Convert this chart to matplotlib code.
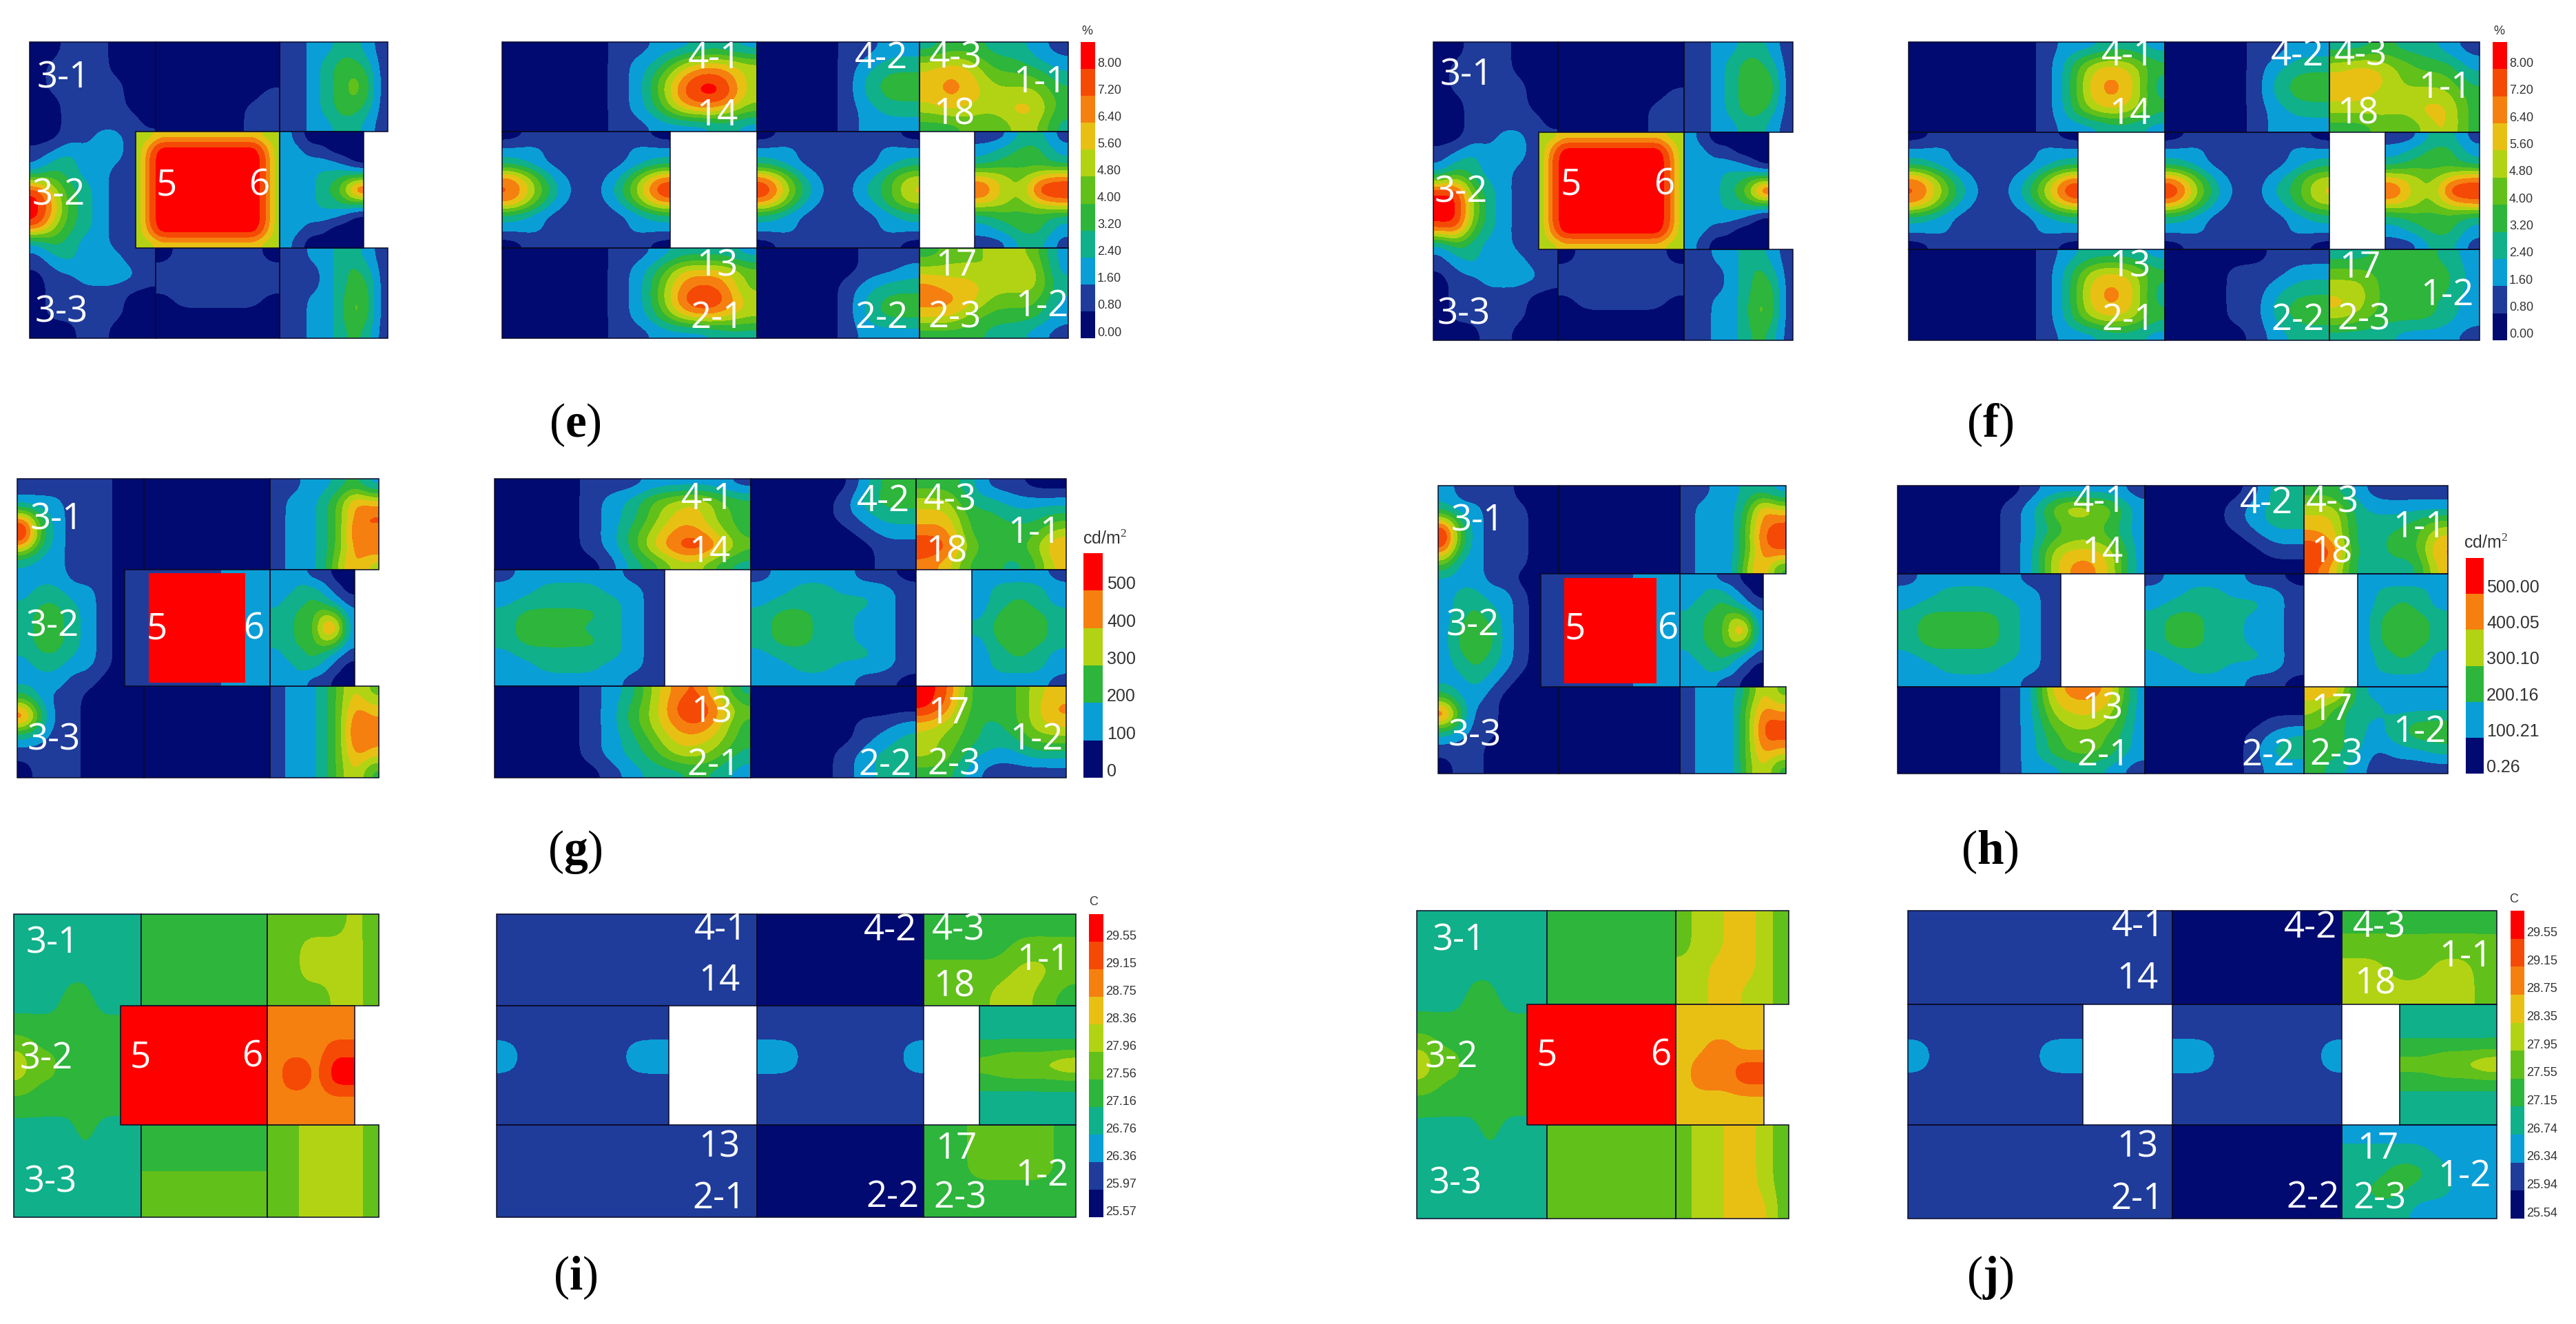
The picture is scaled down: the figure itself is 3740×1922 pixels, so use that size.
import numpy as np
import matplotlib
matplotlib.use('Agg')
from matplotlib import pyplot as plt
from matplotlib.colors import ListedColormap, BoundaryNorm
from matplotlib.patches import Rectangle

plt.rcParams['mathtext.fontset'] = 'custom'
plt.rcParams['mathtext.rm'] = 'Liberation Serif'
plt.rcParams['mathtext.bf'] = 'Liberation Serif:bold'

# 11 colour bands, navy to red. each room is a grid of band numbers (hex, a=10)
BAND_COLORS = ['#000a70', '#1f3c9a', '#0a9ed6', '#0fb08a', '#2db53c', '#62c01a',
               '#b2d313', '#e8c014', '#f5800f', '#f54a05', '#ff0000']

E_W = ["00111000", "01111000", "01111100", "00111100", "00111110", "00112211", "12322211", "24322111",
       "a6432111", "a8432111", "a6432111", "24322111", "12322211", "01122221", "01111100", "01111100", "00011000"]
E_TM = ["0000000", "0000000", "0000000", "0000001", "0000011", "0000011"]
E_TR = ["11223321", "11234431", "11234541", "11234541", "11234431", "11223321"]
E_C = ["667777777777766", "68aaaaaaaaaaa86", "69aaaaaaaaaaa96", "69aaaaaaaaaaa96", "69aaaaaaaaaaa96", "69aaaaaaaaaaa96",
       "69aaaaaaaaaaa96", "69aaaaaaaaaaa96", "69aaaaaaaaaaa96", "68aaaaaaaaaaa86", "667777777777766"]
E_R6 = ["2100000", "2211000", "2222210", "2223344", "222346a", "2223344", "2222210", "2211000", "2100000"]
E_BM = ["0111110", "1111111", "1111111", "0111110", "0000000", "0000000"]
E_BR = ["11223321", "11123431", "11123441", "11223541", "11223541", "11223431"]
E_TA = ["000001122332", "000001236776", "000001258a96", "000001259aa6", "000001247875", "000001122232"]
E_TB = ["00001122", "00001233", "00001344", "00001344", "00001233", "00001222"]
E_TC = ["3443321", "6764432", "7875553", "7876664", "6766774", "4454663"]
E_MA = ["01111110", "22111122", "32111123", "85211258", "9631136a", "85211258", "32111123", "22111122", "01111110"]
E_MB = ["01111110", "22111122", "32111123", "85211246", "a6311347", "85211246", "32111123", "22111122", "01111110"]
E_MC = ["11331", "23442", "34443", "76578", "965aa", "76578", "34443", "23442", "11331"]
E_BA = ["000001123332", "000001247775", "000001258985", "000001259a96", "000001247876", "000001122233"]
E_BB = ["00000111", "00000112", "00001233", "00001344", "00001344", "00001222"]
E_BC = ["4556652", "6665762", "8776663", "8875552", "7754442", "4443321"]

F_W = ["00111000", "01111000", "01111100", "00111100", "00111110", "00112211", "12322211", "24322111",
       "aa532111", "aa632111", "aa532111", "24322111", "12322211", "01122221", "01111100", "01111100", "00011000"]
F_TM = ["0000000", "0000000", "0000000", "0000001", "0000011", "0000011"]
F_TR = ["11223321", "11234431", "11234441", "11234541", "11234431", "11223321"]
F_C = ["667777777777766", "68aaaaaaaaaaa86", "69aaaaaaaaaaa96", "69aaaaaaaaaaa96", "69aaaaaaaaaaa96", "69aaaaaaaaaaa96",
       "69aaaaaaaaaaa96", "69aaaaaaaaaaa96", "69aaaaaaaaaaa96", "68aaaaaaaaaaa86", "667777777777766"]
F_R6 = ["2100000", "2211000", "2222210", "2223344", "222346a", "2223344", "2222210", "2211000", "2100000"]
F_BM = ["0111110", "1111111", "1111111", "0111110", "0000000", "0000000"]
F_BR = ["11223321", "11123431", "11123441", "11223541", "11223541", "11223431"]
F_TA = ["000000122332", "000000136764", "000000137873", "000000137873", "000000136764", "000000122332"]
F_TB = ["00001122", "00001233", "00001344", "00001344", "00001233", "00001222"]
F_TC = ["3343321", "6765442", "7775553", "7766664", "6666774", "4454674"]
F_MA = ["01111110", "22111122", "32111123", "85211258", "9631136a", "85211258", "32111123", "22111122", "01111110"]
F_MB = ["01111110", "22111122", "32111123", "85211246", "a6311347", "85211246", "32111123", "22111122", "01111110"]
F_MC = ["11331", "23442", "34443", "76578", "965aa", "76578", "34443", "23442", "11331"]
F_BA = ["000000123332", "000000136764", "000000137873", "000000137873", "000000136764", "000000122332"]
F_BB = ["00000111", "00011122", "00011233", "00011344", "00011344", "00001233"]
F_BC = ["3344432", "5544442", "6644442", "7644432", "6544432", "3332221"]

G_W = ["11111100", "22211100", "a4211100", "a4211100", "32211100", "22211100", "23322100", "34432100",
       "34432100", "34432100", "23322100", "22211000", "42110000", "a4110000", "32110000", "11110000", "01110000"]
G_TM = ["00", "00"]
G_TR = ["1122342", "1223587", "1223589", "1223598", "1223589", "1223686"]
G_C = ["111122", "111122"]
G_R6 = ["2221100", "2233210", "2334321", "3344652", "3344882", "3344652", "2334321", "2233210", "2221100"]
G_BM = ["00", "00"]
G_BR = ["1223575", "1223587", "1223598", "1223598", "1223587", "1223574"]
G_TA = ["000011122221", "000012356754", "000012357754", "000012468864", "000012479a85", "000001346643"]
G_TB = ["00000244", "00001344", "00001233", "00000122", "00000011", "00000011"]
G_TC = ["4431100", "6633222", "7744334", "8844446", "a954458", "8744347"]
G_MA = ["12222211", "22333221", "23333321", "34444321", "34443321", "34444321", "23333321", "22333221", "22222211"]
G_MB = ["12222110", "22332221", "23333321", "34433221", "34433221", "34433221", "23333321", "22332221", "22222110"]
G_MC = ["22221", "23332", "23432", "24443", "34543", "24443", "23432", "23332", "22221"]
G_BA = ["000012368963", "000012469a85", "000012468974", "000012357764", "000012346653", "000001233432"]
G_BB = ["00000000", "00000000", "00000112", "00000123", "00001233", "00001233"]
G_BC = ["a944467", "a844468", "7643467", "6543355", "6532233", "4421111"]

H_W = ["21111000", "32211100", "a4211100", "a4211100", "52211100", "22211000", "23322100", "23432100",
       "24442100", "24442100", "23432100", "22321000", "42210000", "a4110000", "32110000", "11100000", "01100000"]
H_TM = ["00", "00"]
H_TR = ["1122332", "1222486", "1222589", "1222599", "1222589", "1222684"]
H_C = ["111122", "111122"]
H_R6 = ["2221100", "2233210", "2334321", "3344652", "3344782", "3344652", "2334321", "2233210", "2221100"]
H_BM = ["00", "00"]
H_BR = ["1222475", "1222587", "1222599", "1222599", "1222587", "1222574"]
H_TA = ["000000122221", "000001257652", "000001245542", "000001245542", "000001267762", "000001268862"]
H_TB = ["00000133", "00001233", "00001233", "00000122", "00000011", "00000000"]
H_TC = ["4421111", "6632222", "7733345", "8733447", "a933448", "9733337"]
H_MA = ["12222211", "22333221", "23333321", "34444321", "34444321", "34444321", "23333321", "22333221", "22222211"]
H_MB = ["12222110", "22332221", "23333321", "34433221", "34433221", "34433221", "23333321", "22332221", "22222110"]
H_MC = ["22222", "23332", "23432", "24443", "24543", "24443", "23432", "23332", "22222"]
H_BA = ["000001278872", "000001267762", "000001256652", "000001245542", "000001245542", "000001223321"]
H_BB = ["00000000", "00000000", "00000011", "00000123", "00000133", "00000122"]
H_BC = ["7832222", "6433222", "5432344", "4432344", "4431223", "4321111"]

I_W = ["33333333", "33333333", "33344333", "44444444", "75544444", "44444444", "33334333", "33333333", "33333333"]
I_TM = ["44", "44"]
I_TR = ["5555565", "5566665", "5566665", "5555665"]
I_C = ["aa", "aa"]
I_R6 = ["888888", "888888", "888899", "8998aa", "8998aa", "888888", "888888"]
I_BM = ["44", "55"]
I_BR = ["5566665", "5566665", "5566665", "5566665"]
I_TA = ["11", "11"]
I_TB = ["00", "00"]
I_TC = ["4444444", "4444555", "5555665", "5556654"]
I_MA = ["11111111", "11111111", "21111122", "21111122", "11111111", "11111111", "11111111"]
I_MB = ["11111111", "11111111", "22111112", "22111112", "11111111", "11111111", "11111111"]
I_MC = ["33333", "33333", "44444", "56667", "44444", "33333", "33333"]
I_BA = ["11", "11"]
I_BB = ["00", "00"]
I_BC = ["4455554", "4455554", "4455554", "4444444", "4444444"]

J_W = ["33333333", "33333333", "33344333", "44444444", "75544444", "44444444", "33334333", "33333333", "33333333"]
J_TM = ["44", "44"]
J_TR = ["5667765", "5667765", "6677765", "6677665"]
J_C = ["aa", "aa"]
J_R6 = ["777777", "777777", "778877", "788899", "788899", "777777", "777777"]
J_BM = ["55", "55"]
J_BR = ["5667765", "5667765", "5667765", "5667775"]
J_TA = ["11", "11"]
J_TB = ["00", "00"]
J_TC = ["4444444", "5555555", "6655665", "6666665"]
J_MA = ["11111111", "11111111", "21111122", "21111122", "11111111", "11111111", "11111111"]
J_MB = ["11111111", "11111111", "22111112", "22111112", "11111111", "11111111", "11111111"]
J_MC = ["33333", "33333", "44444", "55667", "44444", "33333", "33333"]
J_BA = ["11", "11"]
J_BB = ["00", "00"]
J_BC = ["2222222", "3333222", "3344322", "3443322", "3332222"]

ROOM_LABELS = ['3-1', '3-2', '3-3', '5', '6', '4-1', '14', '4-2', '4-3', '18', '1-1',
               '13', '2-1', '2-2', '17', '2-3', '1-2']
TICKS_PCT = ['0.00', '0.80', '1.60', '2.40', '3.20', '4.00', '4.80', '5.60', '6.40', '7.20', '8.00']
TICKS_G = ['0', '100', '200', '300', '400', '500']
TICKS_H = ['0.26', '100.21', '200.16', '300.10', '400.05', '500.00']
TICKS_I = ['25.57', '25.97', '26.36', '26.76', '27.16', '27.56', '27.96', '28.36', '28.75', '29.15', '29.55']
TICKS_J = ['25.54', '25.94', '26.34', '26.74', '27.15', '27.55', '27.95', '28.35', '28.75', '29.15', '29.55']

# layout in pixels of the page
E_LABEL_XY = [(92, 114), (85, 284), (89, 454), (242, 270), (377, 270), (1038, 85), (1041, 168), (1280, 85), (1388, 85),
              (1385, 167), (1510, 120), (1041, 387), (1041, 462), (1280, 462), (1388, 386), (1386, 462), (1513, 445)]
F_LABEL_XY = [(2129, 110), (2121, 280), (2125, 457), (2281, 269), (2417, 269), (3090, 81), (3092, 166), (3336, 81), (3428, 81),
              (3423, 166), (3550, 128), (3092, 388), (3090, 465), (3336, 465), (3426, 389), (3432, 465), (3553, 429)]
G_LABEL_XY = [(82, 755), (76, 910), (78, 1075), (228, 914), (369, 914), (1028, 725), (1030, 802), (1283, 728), (1380, 727),
              (1374, 802), (1502, 774), (1033, 1035), (1036, 1111), (1285, 1111), (1377, 1036), (1385, 1111), (1505, 1074)]
H_LABEL_XY = [(2145, 757), (2138, 909), (2141, 1069), (2287, 914), (2422, 914), (3049, 729), (3052, 803), (3291, 731), (3387, 730),
              (3385, 803), (3513, 766), (3052, 1030), (3054, 1097), (3293, 1097), (3385, 1031), (3392, 1097), (3513, 1063)]
I_LABEL_XY = [(76, 1370), (67, 1538), (73, 1717), (204, 1536), (367, 1535), (1047, 1350), (1044, 1424), (1293, 1351), (1392, 1351),
              (1385, 1433), (1515, 1394), (1044, 1666), (1044, 1740), (1296, 1738), (1388, 1668), (1394, 1740), (1513, 1707)]
J_LABEL_XY = [(2118, 1366), (2107, 1536), (2113, 1719), (2246, 1533), (2412, 1533), (3105, 1345), (3103, 1421), (3355, 1347), (3455, 1347),
              (3448, 1429), (3580, 1389), (3103, 1666), (3103, 1741), (3358, 1739), (3452, 1668), (3455, 1741), (3578, 1708)]


def Panel(name, rooms, labels, xs, ys, cx, r6, rxs, holes, bar, bar_bands, ticks, unit, unit_xy, tick_size, tick_x, cap_xy, box=None):
    return dict(name=name, rooms=rooms, labels=labels, xs=xs, ys=ys, cx=cx, r6=r6, rxs=rxs, holes=holes, bar=bar,
                bar_bands=bar_bands, ticks=ticks, unit=unit, unit_xy=unit_xy, tick_size=tick_size, tick_x=tick_x,
                cap_xy=cap_xy, box=box)


ALL_BANDS = list(range(11))
SIX_BANDS = [0, 2, 4, 6, 8, 10]
panels = [
    Panel('e', [E_W, E_TM, E_TR, E_C, E_R6, E_BM, E_BR, E_TA, E_TB, E_TC, E_MA, E_MB, E_MC, E_BA, E_BB, E_BC], E_LABEL_XY,
          (43, 226, 406, 563), (61, 191, 360, 491), 197, 528, (729, 1099, 1335, 1551), (973, 1415),
          (1569, 1590, 61, 491), ALL_BANDS, TICKS_PCT, '%', (1578, 45), 13, 1593, (835, 617)),
    Panel('f', [F_W, F_TM, F_TR, F_C, F_R6, F_BM, F_BR, F_TA, F_TB, F_TC, F_MA, F_MB, F_MC, F_BA, F_BB, F_BC], F_LABEL_XY,
          (2081, 2262, 2445, 2603), (61, 192, 362, 494), 2234, 2568, (2771, 3143, 3382, 3600), (3017, 3463),
          (3619, 3640, 61, 494), ALL_BANDS, TICKS_PCT, '%', (3628, 45), 13, 3643, (2889, 617)),
    Panel('g', [G_W, G_TM, G_TR, G_C, G_R6, G_BM, G_BR, G_TA, G_TB, G_TC, G_MA, G_MB, G_MC, G_BA, G_BB, G_BC], G_LABEL_XY,
          (25, 209, 392, 550), (695, 827, 996, 1129), 181, 515, (718, 1090, 1330, 1548), (965, 1411),
          (1573, 1601, 803, 1129), SIX_BANDS, TICKS_G, 'cd/m$^2$', (1604, 782), 18, 1607, (835, 1237), box=(216, 356, 832, 991)),
    Panel('h', [H_W, H_TM, H_TR, H_C, H_R6, H_BM, H_BR, H_TA, H_TB, H_TC, H_MA, H_MB, H_MC, H_BA, H_BB, H_BC], H_LABEL_XY,
          (2088, 2263, 2439, 2593), (705, 833, 997, 1123), 2237, 2560, (2755, 3114, 3345, 3554), (2992, 3423),
          (3580, 3606, 810, 1123), SIX_BANDS, TICKS_H, 'cd/m$^2$', (3609, 788), 18, 3610, (2889, 1237), box=(2271, 2405, 839, 992)),
    Panel('i', [I_W, I_TM, I_TR, I_C, I_R6, I_BM, I_BR, I_TA, I_TB, I_TC, I_MA, I_MB, I_MC, I_BA, I_BB, I_BC], I_LABEL_XY,
          (20, 205, 388, 550), (1327, 1460, 1633, 1767), 175, 515, (721, 1099, 1341, 1562), (971, 1422),
          (1581, 1602, 1327, 1767), ALL_BANDS, TICKS_I, 'C', (1588, 1310), 13, 1605, (835, 1855)),
    Panel('j', [J_W, J_TM, J_TR, J_C, J_R6, J_BM, J_BR, J_TA, J_TB, J_TC, J_MA, J_MB, J_MC, J_BA, J_BB, J_BC], J_LABEL_XY,
          (2057, 2246, 2433, 2597), (1322, 1458, 1633, 1769), 2217, 2561, (2770, 3154, 3400, 3625), (3024, 3484),
          (3645, 3665, 1322, 1769), ALL_BANDS, TICKS_J, 'C', (3650, 1305), 13, 3668, (2889, 1855)),
]

cmap = ListedColormap(BAND_COLORS)
norm = BoundaryNorm(np.arange(12), 11)

fig = plt.figure(figsize=(37.41, 19.22), dpi=100, facecolor='white')
ax = fig.add_axes([0, 0, 1, 1])
ax.axis('off')


def DrawRoom(grid, x0, x1, y0, y1, z):
    vals = np.array([[int(c, 16) for c in row] for row in grid]) + 0.5
    ax.imshow(vals, extent=(x0, x1, y1, y0), cmap=cmap, norm=norm, aspect='auto', zorder=z,
              interpolation='bicubic', interpolation_stage='data')
    ax.add_patch(Rectangle((x0, y0), x1 - x0, y1 - y0, fill=False, ec='#0a0a28', lw=1.1, zorder=z + 0.5))


for p in panels:
    r = p['rooms']
    x0, x1, x2, x3 = p['xs']
    y0, y1, y2, y3 = p['ys']
    DrawRoom(r[0], x0, x1, y0, y3, 1)
    DrawRoom(r[1], x1, x2, y0, y1, 2)
    DrawRoom(r[2], x2, x3, y0, y1, 2)
    DrawRoom(r[5], x1, x2, y2, y3, 2)
    DrawRoom(r[6], x2, x3, y2, y3, 2)
    DrawRoom(r[3], p['cx'], x2, y1, y2, 3)
    DrawRoom(r[4], x2, p['r6'], y1, y2, 3)
    if p['box'] is not None:
        bx0, bx1, by0, by1 = p['box']
        ax.add_patch(Rectangle((bx0, by0), bx1 - bx0, by1 - by0, fc='#ff0000', ec='none', zorder=4))

    a0, a1, a2, a3 = p['rxs']
    h1, h2 = p['holes']
    spans = [(a0, a1), (a1, a2), (a2, a3), (a0, h1), (a1, a2), (h2, a3), (a0, a1), (a1, a2), (a2, a3)]
    rows = [(y0, y1)] * 3 + [(y1, y2)] * 3 + [(y2, y3)] * 3
    for grid, sp, ro in zip(r[7:], spans, rows):
        DrawRoom(grid, sp[0], sp[1], ro[0], ro[1], 2)

    for lab, (lx, ly) in zip(ROOM_LABELS, p['labels']):
        ax.text(lx, ly, lab, color='white', fontsize=38, family='Open Sans', ha='center', va='center', zorder=6)

    # stepped colour bar
    bx0, bx1, by0, by1 = p['bar']
    n = len(p['bar_bands'])
    h = (by1 - by0) / n
    for i, band in enumerate(p['bar_bands']):
        ax.bar(bx0, -h, width=bx1 - bx0, bottom=by1 - i * h, align='edge', color=BAND_COLORS[band], lw=0, zorder=3)
        off = 8 if n == 11 else 9
        ax.text(p['tick_x'], by1 - i * h - off, p['ticks'][i], fontsize=p['tick_size'], family='Liberation Sans',
                color='#333333', ha='left', va='center', zorder=6)
    ux, uy = p['unit_xy']
    ax.text(ux, uy, p['unit'], fontsize=p['tick_size'], family='Liberation Sans', color='#333333',
            ha='center', va='center', zorder=6)

    cx, cy = p['cap_xy']
    ax.text(cx, cy, '($\\mathbf{%s}$)' % p['name'], fontsize=50, family='Liberation Serif', color='black',
            ha='center', va='center', zorder=6)

ax.set_xlim(0, 3741)
ax.set_ylim(1922, 0)
fig.savefig('out.png', dpi=100, facecolor='white')
